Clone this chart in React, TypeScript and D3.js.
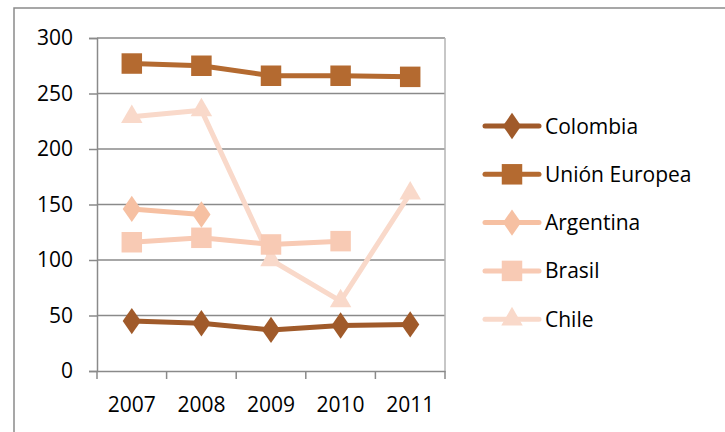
import React, { useEffect, useRef } from 'react';
import * as d3 from 'd3';

const years = ['2007', '2008', '2009', '2010', '2011'];
const yTicks = [0, 50, 100, 150, 200, 250, 300];

const colombia = [45, 43, 37, 41, 42];
const unionEuropea = [277, 275, 266, 266, 265];
const argentina = [146, 141, null, null, null];
const brasil = [116, 120, 114, 117, null];
const chile = [229, 235, 100, 63, 160];

interface Series {
    name: string;
    values: (number | null)[];
    color: string;
    marker: 'diamond' | 'square' | 'triangle';
}

const series: Series[] = [
    { name: 'Colombia', values: colombia, color: '#A05A2A', marker: 'diamond' },
    { name: 'Unión Europea', values: unionEuropea, color: '#B46A30', marker: 'square' },
    { name: 'Argentina', values: argentina, color: '#F6C0A2', marker: 'diamond' },
    { name: 'Brasil', values: brasil, color: '#F8CAB4', marker: 'square' },
    { name: 'Chile', values: chile, color: '#F9D9CA', marker: 'triangle' },
];

const App: React.FC = () => {
    const containerRef = useRef<HTMLDivElement>(null);

    useEffect(() => {
        if (!containerRef.current) return;
        const container = d3.select(containerRef.current);

        const width = 725;
        const height = 432;
        const plot = { left: 97, right: 445, top: 38, bottom: 371 };
        const font = "'Open Sans', 'Liberation Sans', sans-serif";
        const gray = '#8a8a8a';

        const svg = container
            .append('svg')
            .attr('width', width)
            .attr('height', height)
            .style('position', 'absolute')
            .style('left', '0px')
            .style('top', '0px');

        svg.append('rect').attr('width', width).attr('height', height).attr('fill', '#fff');

        // Outer chart border (runs off the right and bottom edges)
        svg.append('rect')
            .attr('x', 14)
            .attr('y', 8)
            .attr('width', 740)
            .attr('height', 450)
            .attr('fill', 'none')
            .attr('stroke', gray)
            .attr('stroke-width', 1.5);

        const xScale = d3.scaleBand<string>().domain(years).range([plot.left, plot.right]);
        const yScale = d3.scaleLinear().domain([0, 300]).range([plot.bottom, plot.top]);

        // Gridlines
        svg.append('g')
            .selectAll('line')
            .data(yTicks.filter((t) => t > 0))
            .enter()
            .append('line')
            .attr('x1', plot.left)
            .attr('x2', plot.right)
            .attr('y1', (d) => yScale(d))
            .attr('y2', (d) => yScale(d))
            .attr('stroke', gray)
            .attr('stroke-width', 1.5);

        // Right edge of plot
        svg.append('line')
            .attr('x1', plot.right).attr('x2', plot.right)
            .attr('y1', plot.top).attr('y2', plot.bottom)
            .attr('stroke', '#b4b4b4').attr('stroke-width', 1.5);

        // Y axis
        const yAxis = d3.axisLeft(yScale).tickValues(yTicks).tickSize(8).tickPadding(16);
        const yG = svg.append('g').attr('transform', `translate(${plot.left},0)`).call(yAxis);

        // X axis
        const xAxis = d3.axisBottom(xScale).tickSize(0).tickPadding(26);
        const xG = svg.append('g').attr('transform', `translate(0,${plot.bottom})`).call(xAxis);
        svg.append('g')
            .selectAll('line')
            .data(d3.range(years.length + 1))
            .enter()
            .append('line')
            .attr('x1', (i) => plot.left + i * xScale.bandwidth())
            .attr('x2', (i) => plot.left + i * xScale.bandwidth())
            .attr('y1', plot.bottom)
            .attr('y2', plot.bottom + 8)
            .attr('stroke', gray)
            .attr('stroke-width', 1.5);

        [yG, xG].forEach((g) => {
            g.selectAll('.domain').attr('stroke', gray).attr('stroke-width', 1.5);
            g.selectAll('.tick line').attr('stroke', gray).attr('stroke-width', 1.5);
            g.selectAll('.tick text')
                .attr('fill', '#000')
                .style('font-family', font)
                .style('font-size', '21px');
        });
        xG.selectAll('.tick text').attr('dy', '0.71em');

        const symbolFor = (m: Series['marker']) =>
            m === 'diamond'
                ? d3.symbol().type(d3.symbolDiamond).size(200)
                : m === 'square'
                ? d3.symbol().type(d3.symbolSquare).size(420)
                : d3.symbol().type(d3.symbolTriangle).size(200);

        const cx = (i: number) => (xScale(years[i]) as number) + xScale.bandwidth() / 2;

        const line = d3
            .line<number | null>()
            .defined((d) => d !== null)
            .x((_, i) => cx(i))
            .y((d) => yScale(d as number));

        const diamondScale = ' scale(1.2,1)';

        // Draw lighter series first so the dark ones sit on top
        const drawOrder = [4, 3, 2, 1, 0];
        drawOrder.forEach((si) => {
            const s = series[si];
            const g = svg.append('g');
            g.append('path')
                .datum(s.values)
                .attr('fill', 'none')
                .attr('stroke', s.color)
                .attr('stroke-width', 5)
                .attr('stroke-linejoin', 'round')
                .attr('stroke-linecap', 'round')
                .attr('d', line);
            g.selectAll('path.marker')
                .data(s.values.map((v, i) => ({ v, i })).filter((d) => d.v !== null))
                .enter()
                .append('path')
                .attr('class', 'marker')
                .attr('d', symbolFor(s.marker)())
                .attr('fill', s.color)
                .attr(
                    'transform',
                    (d) =>
                        `translate(${cx(d.i)},${yScale(d.v as number)})${
                            s.marker === 'diamond' ? diamondScale : ''
                        }`
                );
        });

        // Legend
        const legendX = 485;
        const legendTop = 126;
        const legendStep = 48.3;
        series.forEach((s, i) => {
            const y = legendTop + i * legendStep;
            const g = svg.append('g');
            g.append('line')
                .attr('x1', legendX)
                .attr('x2', legendX + 54)
                .attr('y1', y)
                .attr('y2', y)
                .attr('stroke', s.color)
                .attr('stroke-width', 5)
                .attr('stroke-linecap', 'round');
            g.append('path')
                .attr('d', symbolFor(s.marker)())
                .attr('fill', s.color)
                .attr(
                    'transform',
                    `translate(${legendX + 27},${y})${s.marker === 'diamond' ? diamondScale : ''}`
                );
            g.append('text')
                .attr('x', legendX + 60)
                .attr('y', y)
                .attr('dy', '0.36em')
                .style('font-family', font)
                .style('font-size', '21px')
                .attr('fill', '#000')
                .text(s.name);
        });

        return () => {
            svg.remove();
        };
    }, []);

    return <div ref={containerRef} />;
};

export default App;
